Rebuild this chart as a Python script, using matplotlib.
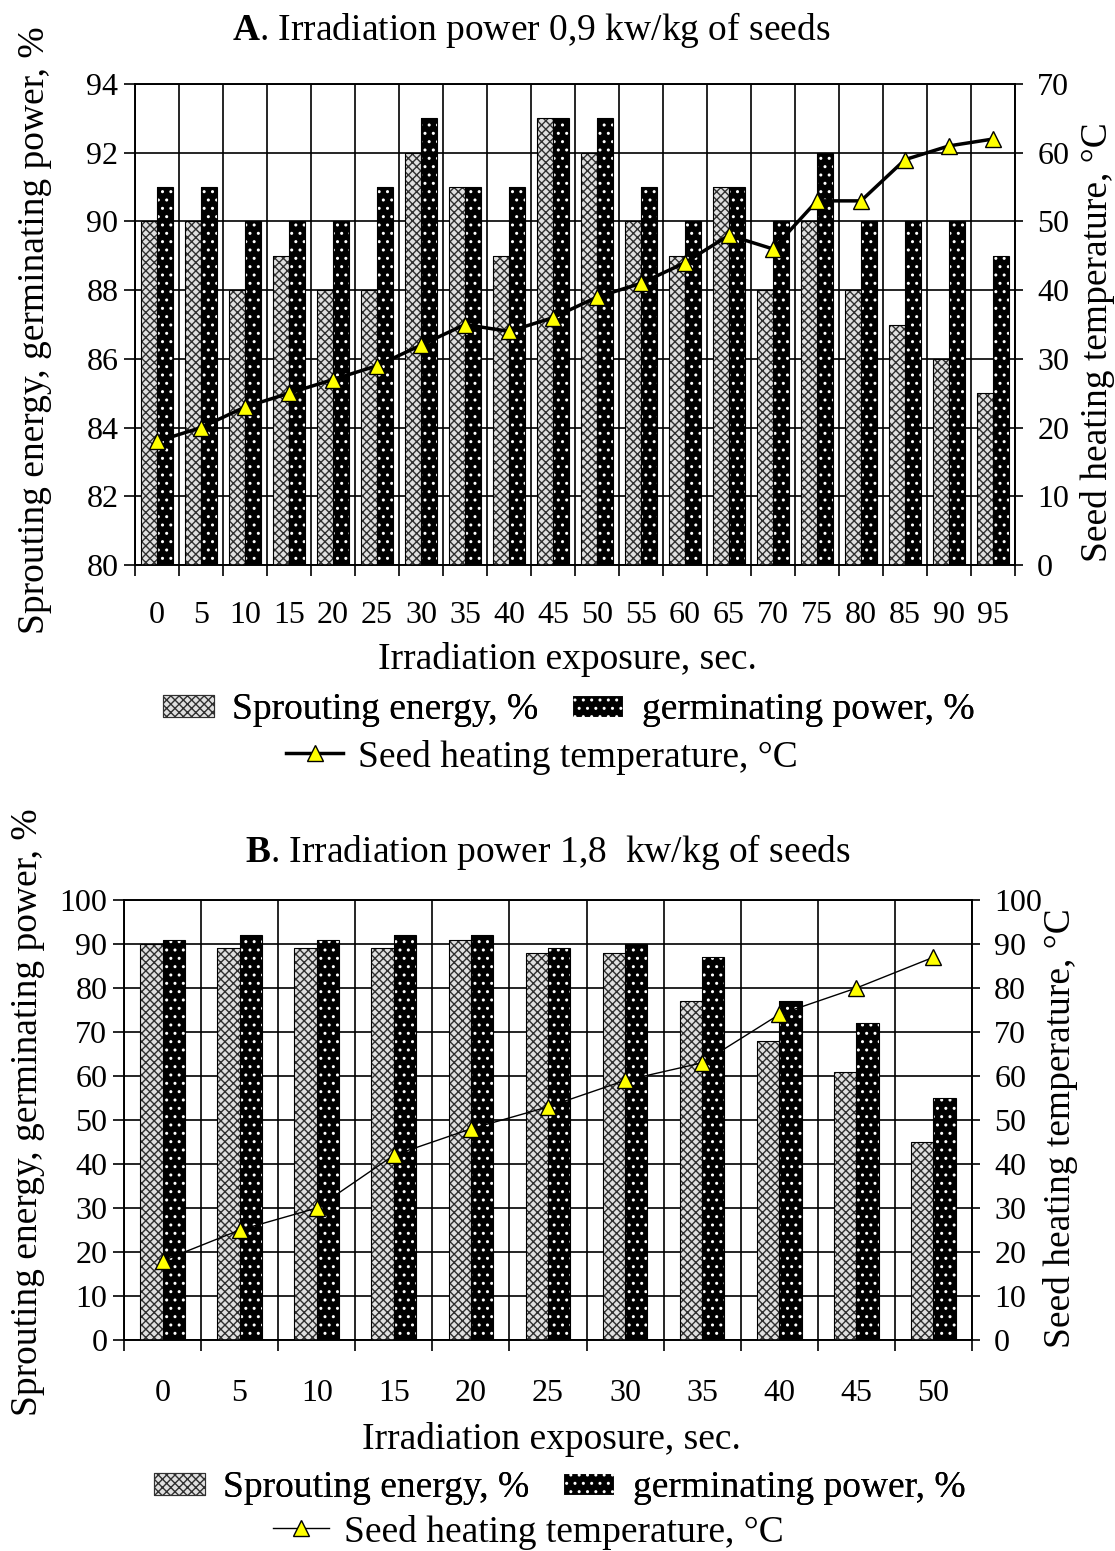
import matplotlib
matplotlib.use('Agg')
import matplotlib.pyplot as plt
import numpy as np
from matplotlib.patches import Patch
from matplotlib.lines import Line2D

plt.rcParams['font.family'] = ['Liberation Serif', 'DejaVu Serif']
plt.rcParams['mathtext.fontset'] = 'custom'
plt.rcParams['mathtext.bf'] = 'Liberation Serif:bold'
plt.rcParams['mathtext.rm'] = 'Liberation Serif'
plt.rcParams['hatch.linewidth'] = 1.0

# ---- Data: chart A (0.9 kW/kg) ----
exposure_a = [0, 5, 10, 15, 20, 25, 30, 35, 40, 45, 50, 55, 60, 65, 70, 75, 80, 85, 90, 95]
sprout_a = [90, 90, 88, 89, 88, 88, 92, 91, 89, 93, 92, 90, 89, 91, 88, 90, 88, 87, 86, 85]
germ_a = [91, 91, 90, 90, 90, 91, 93, 91, 91, 93, 93, 91, 90, 91, 90, 92, 90, 90, 90, 89]
temp_a = [18, 20, 23, 25, 27, 29, 32, 35, 34, 36, 39, 41, 44, 48, 46, 53, 53, 59, 61, 62]

# ---- Data: chart B (1.8 kW/kg) ----
exposure_b = [0, 5, 10, 15, 20, 25, 30, 35, 40, 45, 50]
sprout_b = [90, 89, 89, 89, 91, 88, 88, 77, 68, 61, 45]
germ_b = [91, 92, 91, 92, 92, 89, 90, 87, 77, 72, 55]
temp_b = [18, 25, 30, 42, 48, 53, 59, 63, 74, 80, 87]

lbl_sprout = "Sprouting energy, %"
lbl_germ = "germinating power, %"
lbl_temp = "Seed heating temperature, °C"
ylab_left = "Sprouting energy, germinating power, %"
ylab_right = "Seed heating temperature, °C"
xlab = "Irradiation exposure, sec."

FT = 23   # tick labels
FL = 27   # labels / titles / legend

fig = plt.figure(figsize=(11.15, 15.51), dpi=100)


def draw(rect, cats, sprout, germ, temp, ylim, ystep, y2lim, y2step, width, lw, ms, xpad):
    ax = fig.add_axes(rect)
    n = len(cats)
    x = np.arange(n)
    ax.set_axisbelow(True)
    ax.bar(x - width / 2, sprout, width, color='#e0e0e0', edgecolor='#303030',
           hatch='xxxx', linewidth=0, zorder=3)
    ax.bar(x - width / 2, sprout, width, fill=False, edgecolor='black',
           linewidth=0.8, zorder=4)
    ax.bar(x + width / 2, germ, width, color='black', edgecolor='white',
           hatch='..', linewidth=0, zorder=3)
    ax.bar(x + width / 2, germ, width, fill=False, edgecolor='black',
           linewidth=0.8, zorder=4)
    ax.set_xlim(-0.5, n - 0.5)
    ax.set_ylim(*ylim)
    ax.set_yticks(np.arange(ylim[0], ylim[1] + 0.1, ystep))
    ax.set_xticks(np.arange(n + 1) - 0.5)
    ax.set_xticklabels([])
    ax.set_xticks(x, minor=True)
    ax.set_xticklabels([str(c) for c in cats], minor=True)
    ax.tick_params(axis='x', which='major', direction='out', length=8, width=1.2)
    ax.tick_params(axis='x', which='minor', length=0, pad=xpad, labelsize=FT)
    ax.tick_params(axis='y', direction='out', length=8, width=1.2, pad=4, labelsize=FT)
    ax.grid(True, which='major', color='black', linewidth=1.2, zorder=0)
    for s in ax.spines.values():
        s.set_linewidth(1.2)
    ax2 = ax.twinx()
    ax2.plot(x, temp, color='black', linewidth=lw, marker='^', markersize=ms,
             markerfacecolor='#ffff00', markeredgecolor='black', markeredgewidth=1.0, zorder=5)
    ax2.set_ylim(*y2lim)
    ax2.set_yticks(np.arange(y2lim[0], y2lim[1] + 0.1, y2step))
    ax2.tick_params(axis='y', direction='out', length=6, width=1.2, pad=10, labelsize=FT)
    for s in ax2.spines.values():
        s.set_linewidth(1.2)
    return ax, ax2


def legends(y1, x1, y2, x2, lw, ms):
    h1 = [Patch(facecolor='#e0e0e0', edgecolor='#303030', hatch='xxxx', linewidth=0.8),
          Patch(facecolor='black', edgecolor='white', hatch='..', linewidth=0.8)]
    leg1 = fig.legend(h1, [lbl_sprout, lbl_germ], ncol=2, loc='center',
                      bbox_to_anchor=(x1, y1), frameon=False, fontsize=FL,
                      handlelength=1.35, handleheight=0.55, columnspacing=0.9,
                      handletextpad=0.5, borderpad=0.1)
    h2 = [Line2D([0], [0], color='black', linewidth=lw, marker='^', markersize=ms,
                 markerfacecolor='#ffff00', markeredgecolor='black')]
    fig.legend(h2, [lbl_temp], loc='center', bbox_to_anchor=(x2, y2),
               frameon=False, fontsize=FL, handlelength=1.5, handletextpad=0.4,
               borderpad=0.1)
    fig.add_artist(leg1)


# Chart A
draw([0.1211, 0.6357, 0.7892, 0.3101], exposure_a, sprout_a, germ_a, temp_a,
     (80, 94), 2, (0, 70), 10, 0.36, 2.5, 12, 26)
fig.text(0.476, 0.9807, r"$\mathbf{A}$. Irradiation power 0,9 kw/kg of seeds",
         ha='center', va='center', fontsize=FL)
fig.text(0.509, 0.5745, xlab, ha='center', va='center', fontsize=FL)
fig.text(0.0314, 0.7872, ylab_left, rotation=90, ha='center', va='center', fontsize=FL)
fig.text(0.9839, 0.7795, ylab_right, rotation=90, ha='center', va='center', fontsize=FL)
legends(0.5422, 0.510, 0.5119, 0.486, 2.5, 12)

# Chart B
draw([0.1112, 0.1360, 0.7605, 0.2837], exposure_b, sprout_b, germ_b, temp_b,
     (0, 100), 10, (0, 100), 10, 0.29, 1.0, 12, 28)
fig.text(0.491, 0.4507, r"$\mathbf{B}$. Irradiation power 1,8  kw/kg of seeds",
         ha='center', va='center', fontsize=FL)
fig.text(0.495, 0.0716, xlab, ha='center', va='center', fontsize=FL)
fig.text(0.0251, 0.283, ylab_left, rotation=90, ha='center', va='center', fontsize=FL)
fig.text(0.9507, 0.2727, ylab_right, rotation=90, ha='center', va='center', fontsize=FL)
legends(0.0406, 0.502, 0.0122, 0.474, 1.0, 12)

fig.savefig('out.png', dpi=100)
